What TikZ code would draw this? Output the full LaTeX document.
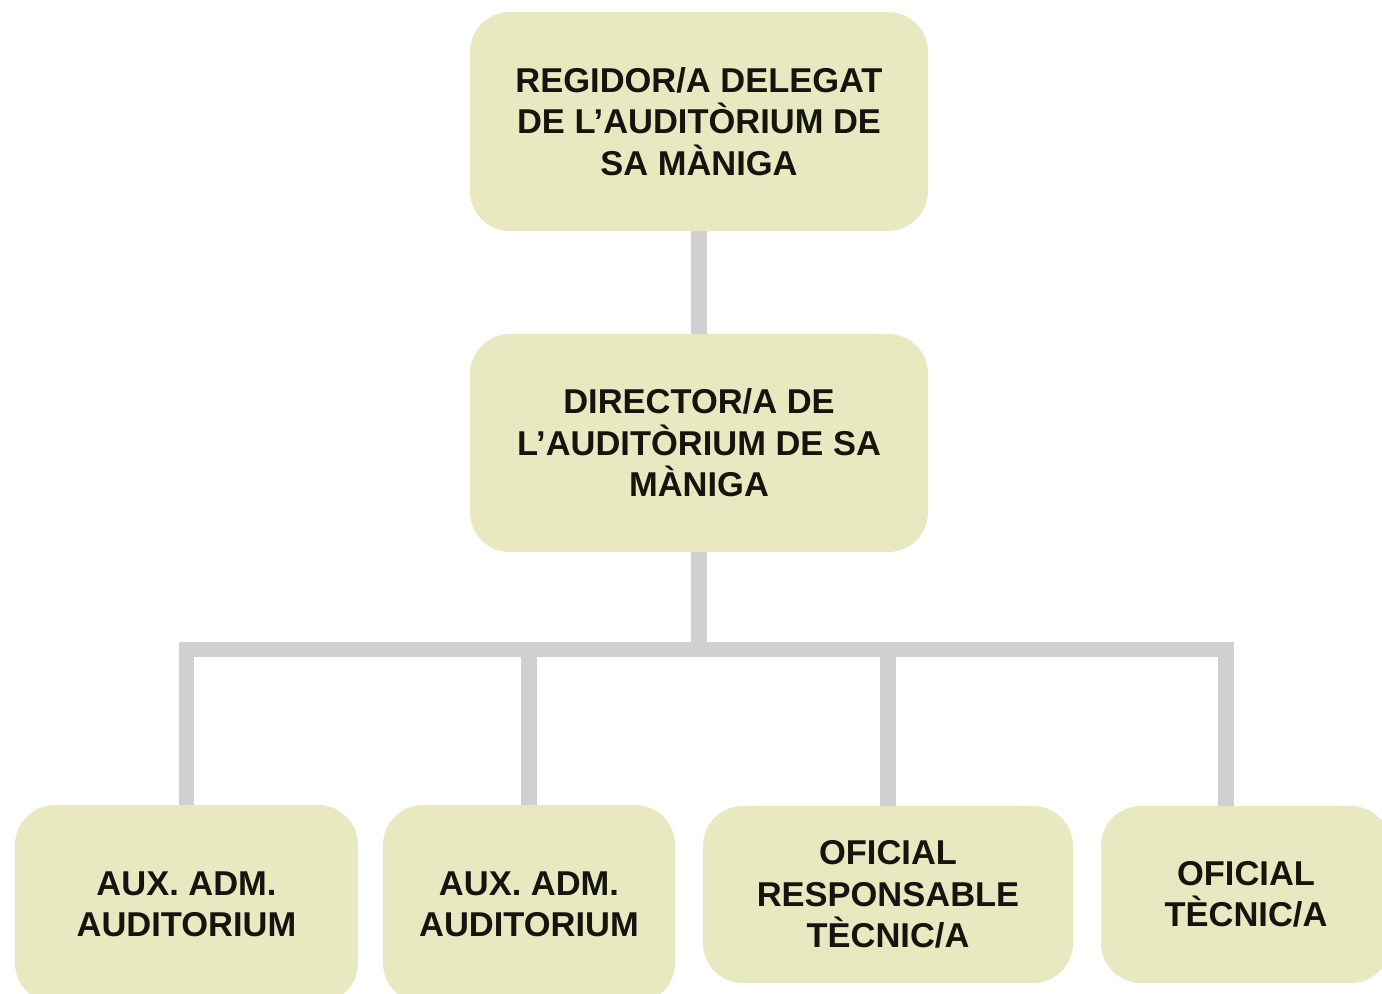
\documentclass[tikz,border=0pt]{standalone}
\usepackage{fontspec}
\setmainfont{Liberation Sans}
\definecolor{boxfill}{HTML}{E8E9C1}
\definecolor{connc}{HTML}{CFD0CF}
\definecolor{txt}{HTML}{151510}
\begin{document}
\begin{tikzpicture}[x=1bp,y=-1bp,
  box/.style={fill=boxfill, rounded corners=40bp, inner sep=0pt, align=center,
    text=txt, font=\fontsize{34.6}{41.5}\selectfont\bfseries},
  conn/.style={draw=connc, line width=15.5bp, line join=miter}]
\clip (0,0) rectangle (1382,993);
\fill[white] (0,0) rectangle (1382,993);
\node[box, minimum width=458bp, minimum height=219bp] (top) at (699,121.5)
  {REGIDOR/A DELEGAT\\DE L’AUDITÒRIUM DE\\SA MÀNIGA};
\node[box, minimum width=458bp, minimum height=218bp] (mid) at (699,443)
  {DIRECTOR/A DE\\L’AUDITÒRIUM DE SA\\MÀNIGA};
\node[box, minimum width=343bp, minimum height=198bp] (b1) at (186.5,904)
  {AUX. ADM.\\AUDITORIUM};
\node[box, minimum width=292bp, minimum height=198bp] (b2) at (529,904)
  {AUX. ADM.\\AUDITORIUM};
\node[box, minimum width=370bp, minimum height=177bp] (b3) at (888,894.5)
  {OFICIAL\\RESPONSABLE\\TÈCNIC/A};
\node[box, minimum width=290bp, minimum height=177bp] (b4) at (1246,894.5)
  {OFICIAL\\TÈCNIC/A};
\coordinate (b4top) at ([xshift=-20bp]b4.north);
\coordinate (barl) at (b1.north |- 0,649.5);
\coordinate (barr) at (b4top |- 0,649.5);
\draw[conn] (top.south) -- (mid.south |- mid.north);
\draw[conn] (mid.south) -- (mid.south |- barl);
\draw[conn] (b1.north) -- (barl) -- (barr) -- (b4top);
\draw[conn] (b2.north) -- (b2.north |- barl);
\draw[conn] (b3.north) -- (b3.north |- barl);
\end{tikzpicture}
\end{document}
